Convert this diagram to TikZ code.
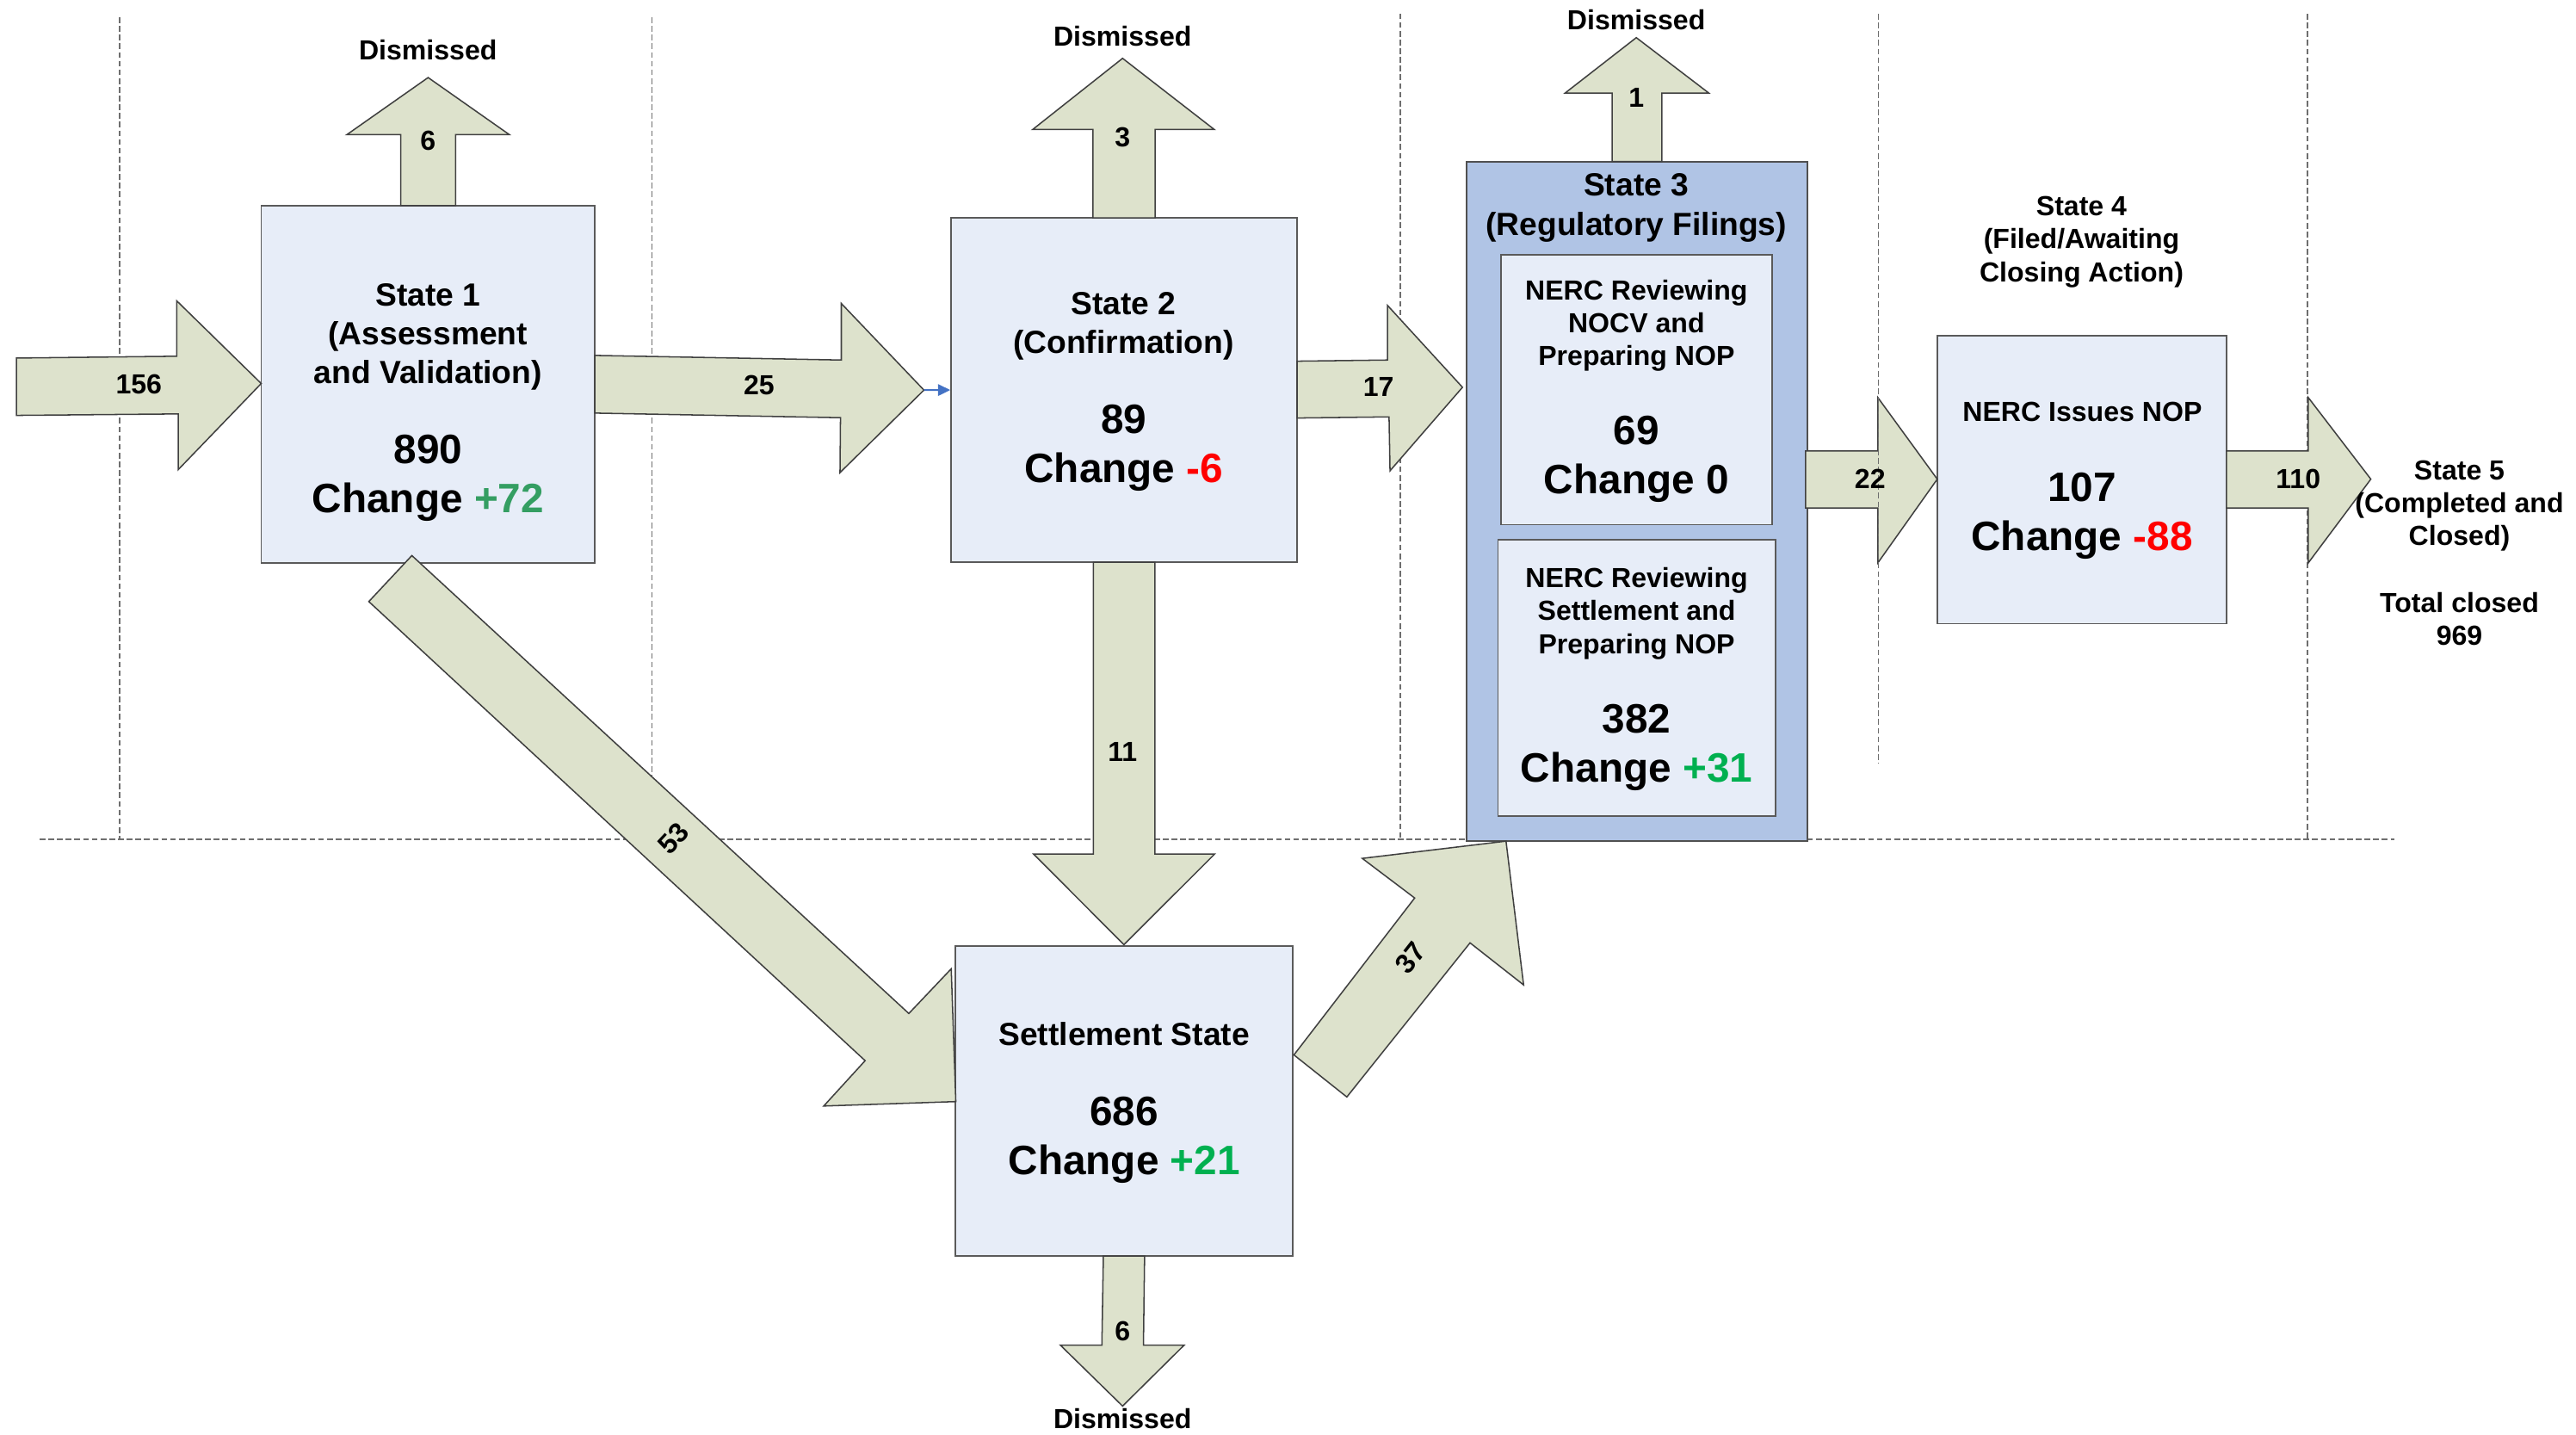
\documentclass[tikz,border=0pt]{standalone}
\usepackage{fontspec}
\setmainfont{Liberation Sans}
\usetikzlibrary{arrows.meta}
\definecolor{arrowfill}{RGB}{221,226,204}
\definecolor{arrowline}{RGB}{64,64,64}
\definecolor{boxfill}{RGB}{231,237,248}
\definecolor{boxline}{RGB}{90,90,90}
\definecolor{outerfill}{RGB}{176,196,229}
\definecolor{outerline}{RGB}{80,80,80}
\definecolor{laneline}{RGB}{110,110,110}
\definecolor{connblue}{RGB}{68,114,196}
\definecolor{greenA}{RGB}{52,158,98}
\definecolor{greenB}{RGB}{0,176,80}
\definecolor{redA}{RGB}{255,0,0}
\tikzset{
  flowarrow/.style={fill=arrowfill, draw=arrowline, line width=0.8pt, line join=miter},
  statebox/.style={rectangle, draw=boxline, fill=boxfill, line width=0.9pt, inner sep=0pt},
  outerbox/.style={rectangle, draw=outerline, fill=outerfill, line width=1pt, inner sep=0pt},
  lane/.style={draw=laneline, line width=0.8pt, dash pattern=on 3.5pt off 1.8pt},
  smalltext/.style={font=\fontsize{16.8}{20}\selectfont\bfseries, align=center, inner sep=0pt},
  bigtext/.style={font=\fontsize{19.5}{23.8}\selectfont\bfseries, align=center, inner sep=0pt},
  largetext/.style={font=\fontsize{25}{30}\selectfont\bfseries, align=center, inner sep=0pt},
  blueconn/.style={draw=connblue, line width=1pt, -{Triangle[length=7.5pt,width=7pt]}},
}
\begin{document}
\begin{tikzpicture}[x=1pt,y=-1pt]
\useasboundingbox (0,0) rectangle (1568,873.3);
\fill[white] (0,0) rectangle (1568,873.3);

% lanes
\draw[lane] (72.9,10.5) -- (72.9,511);
\draw[lane] (396.9,10.5) -- (396.9,511);
\draw[lane] (852.3,8.2) -- (852.3,511);
\draw[lane] (1404.6,8.4) -- (1404.6,511);
\draw[lane] (24.1,510.9) -- (1457.5,510.9);

% boxes
\node[outerbox, minimum width=207.6pt, minimum height=413.4pt] (s3) at (996.3,305) {};
\node[statebox, minimum width=165.2pt, minimum height=164.1pt] (n1) at (996.1,237.25) {};
\node[statebox, minimum width=168.9pt, minimum height=168.1pt] (n2) at (996.25,412.55) {};
\node[statebox, minimum width=203.1pt, minimum height=217.7pt] (s1) at (260.55,233.95) {};
\node[statebox, minimum width=210.6pt, minimum height=209.5pt] (s2) at (684.2,237.35) {};
\node[statebox, minimum width=205.3pt, minimum height=188.8pt] (st) at (684.05,670) {};
\node[statebox, minimum width=176pt, minimum height=175.3pt] (s4) at (1267.2,291.95) {};

% block arrows
\draw[flowarrow] (10,217.9) -- (107.6,216.8) -- (107.6,183.1) -- (159,233.4) -- (108.5,285.8) -- (108.5,251.9) -- (10,252.8) -- cycle;
\draw[flowarrow] (362.1,216.3) -- (512.1,219.1) -- (512.1,184.7) -- (562.4,237.4) -- (511.3,287.6) -- (511.6,254.2) -- (362.1,251.4) -- cycle;
\draw[flowarrow] (789.5,219.8) -- (844.6,219.1) -- (844.6,185.9) -- (890.2,235.7) -- (846.1,286.5) -- (845.5,253.7) -- (789.5,254.4) -- cycle;
\draw[flowarrow] (1099,274.5) -- (1143,274.5) -- (1143,241.9) -- (1179.2,291.6) -- (1143,342.6) -- (1143,309.2) -- (1099,309.2) -- cycle;
\draw[flowarrow] (1355.2,274.5) -- (1405,274.5) -- (1405,241.9) -- (1443.1,291.6) -- (1405,342.6) -- (1405,309.2) -- (1355.2,309.2) -- cycle;
\draw[flowarrow] (243.9,125.1) -- (243.9,81.9) -- (211.2,81.9) -- (260.6,47.2) -- (310,81.9) -- (277.3,81.9) -- (277.3,125.1) -- cycle;
\draw[flowarrow] (665.3,132.6) -- (665.3,78.8) -- (628.6,78.8) -- (683.3,35.5) -- (739.1,78.8) -- (703.1,78.8) -- (703.1,132.6) -- cycle;
\draw[flowarrow] (981.3,98.3) -- (981.3,56.6) -- (952.7,56.6) -- (996,22.9) -- (1040.1,56.6) -- (1011.5,56.6) -- (1011.5,98.3) -- cycle;
\draw[flowarrow] (665.5,342.1) -- (703,342.1) -- (703,519.7) -- (739.4,519.7) -- (684.1,574.9) -- (629.1,519.7) -- (665.5,519.7) -- cycle;
\draw[flowarrow] (671.6,764.4) -- (696.7,764.4) -- (696,818.6) -- (720.8,818.6) -- (683.3,855.7) -- (645.4,818.6) -- (670.7,818.6) -- cycle;
\draw[flowarrow] (250.7,338.1) -- (553.2,616.8) -- (579,589.6) -- (581.8,670.4) -- (501.4,673.1) -- (526.6,645.5) -- (224.5,366.1) -- cycle;
\draw[flowarrow] (787.6,642) -- (861.1,546.5) -- (829.2,522.4) -- (916.7,511.9) -- (927.4,599.4) -- (894.8,573.8) -- (819.8,667.6) -- cycle;

% lane drawn over the 22 arrow
\draw[lane] (1143.3,8.4) -- (1143.3,464.8);

% small blue connector into State 2
\coordinate (t25) at (562.4,237.4);
\draw[blueconn] (t25) -- (s2.west);

% Dismissed labels
\node[smalltext] (dis1) at (260.5,30.4) {Dismissed};
\node[smalltext] (dis2) at (683.3,22.2) {Dismissed};
\node[smalltext] (dis3) at (996,12.2) {Dismissed};
\node[smalltext] (dis4) at (683.3,863.4) {Dismissed};

% arrow labels
\node[smalltext] (l6a) at (260.5,85.4) {6};
\node[smalltext] (l156) at (84.5,233.9) {156};
\node[smalltext] (l25) at (462,234.5) {25};
\node[smalltext] (l3) at (683.3,83.5) {3};
\node[smalltext] (l17) at (839.1,235.5) {17};
\node[smalltext] (l1) at (996,59.6) {1};
\node[smalltext] (l11) at (683.3,457.7) {11};
\node[smalltext, rotate=47.3] (l53) at (409.7,510.2) {53};
\node[smalltext, rotate=51.9] (l37) at (858.7,582.9) {37};
\node[smalltext] (l6b) at (683.3,810) {6};
\node[smalltext] (l22) at (1138.3,291.6) {22};
\node[smalltext] (l110) at (1398.9,291.6) {110};

% box texts
\node[bigtext] (s1t) at (260.5,205.0) {State 1\\(Assessment\\and Validation)};
\node[largetext] (s1n) at (260.6,291.15) {890\\Change {\color{greenA}+72}};
\node[bigtext] (s2t) at (683.8,198.55) {State 2\\(Confirmation)};
\node[largetext] (s2n) at (684.1,272.55) {89\\Change {\color{redA}-6}};
\node[bigtext] (stt) at (684.3,629.1) {Settlement State};
\node[largetext] (stn) at (684.3,693.85) {686\\Change {\color{greenB}+21}};
\node[bigtext] (s3t) at (996,126.55) {State 3\\(Regulatory Filings)};
\node[smalltext] (n1t) at (996.1,198.2) {NERC Reviewing\\NOCV and\\Preparing NOP};
\node[largetext] (n1n) at (996.1,279.3) {69\\Change 0};
\node[smalltext] (n2t) at (996.2,373.4) {NERC Reviewing\\Settlement and\\Preparing NOP};
\node[largetext] (n2n) at (996.2,454.95) {382\\Change {\color{greenB}+31}};
\node[smalltext] (s4l) at (1267,147.3) {State 4\\(Filed/Awaiting\\Closing Action)};
\node[smalltext] (s4t) at (1267.5,250.9) {NERC Issues NOP};
\node[largetext] (s4n) at (1267.3,313.85) {107\\Change {\color{redA}-88}};
\node[smalltext] (s5l) at (1497,308.0) {State 5\\(Completed and\\Closed)};
\node[smalltext] (tot) at (1497,376.75) {Total closed\\969};
\end{tikzpicture}
\end{document}
